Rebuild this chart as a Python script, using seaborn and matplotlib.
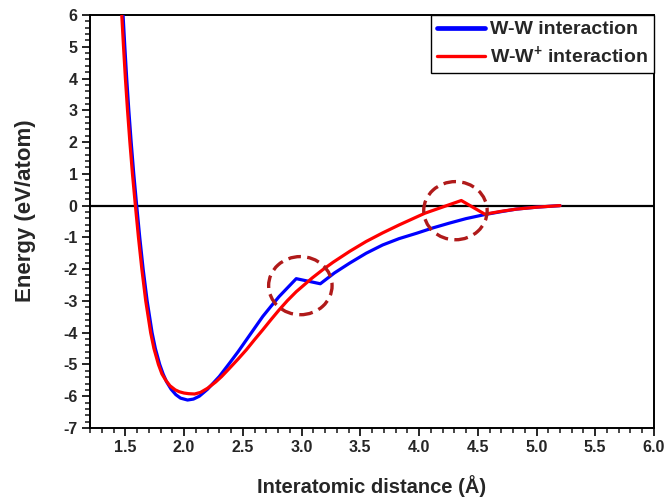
import matplotlib
matplotlib.use("Agg")
import matplotlib.pyplot as plt
from matplotlib.patches import Ellipse
from matplotlib.ticker import MultipleLocator, FormatStrFormatter
from matplotlib.lines import Line2D
import seaborn as sns
import pandas as pd

# W-W pair potential (eV/atom vs. interatomic distance in Å)
ww_r = [1.481, 1.496, 1.512, 1.530, 1.550, 1.572, 1.597, 1.623, 1.652, 1.686,
        1.728, 1.756, 1.793, 1.822, 1.852, 1.890, 1.930, 1.970, 2.030, 2.080,
        2.130, 2.200, 2.300, 2.387, 2.460, 2.530, 2.600, 2.670, 2.740, 2.810,
        2.955, 3.160, 3.280, 3.410, 3.550, 3.690, 3.830, 3.980, 4.120, 4.260,
        4.400, 4.550, 4.700, 4.830, 5.000, 5.200]
ww_e = [6.00, 5.00, 4.00, 3.00, 2.00, 1.00, 0.00, -1.00, -2.00, -3.00,
        -4.00, -4.50, -5.00, -5.30, -5.55, -5.78, -5.95, -6.06, -6.12, -6.09,
        -6.00, -5.78, -5.38, -4.96, -4.60, -4.23, -3.86, -3.49, -3.17, -2.86,
        -2.30, -2.46, -2.12, -1.81, -1.50, -1.24, -1.04, -0.87, -0.70, -0.55,
        -0.41, -0.29, -0.19, -0.11, -0.05, 0.00]

# W-W+ pair potential
wwp_r = [1.470, 1.485, 1.501, 1.519, 1.539, 1.561, 1.586, 1.612, 1.641, 1.674,
         1.716, 1.744, 1.782, 1.812, 1.845, 1.880, 1.925, 1.960, 2.000, 2.040,
         2.090, 2.140, 2.200, 2.270, 2.320, 2.387, 2.460, 2.530, 2.600, 2.670,
         2.740, 2.810, 2.880, 2.955, 3.090, 3.180, 3.270, 3.410, 3.550, 3.690,
         3.830, 4.050, 4.360, 4.560, 4.700, 4.830, 5.000, 5.200]
wwp_e = [6.00, 5.00, 4.00, 3.00, 2.00, 1.00, 0.00, -1.00, -2.00, -3.00,
         -4.00, -4.50, -5.00, -5.30, -5.50, -5.67, -5.80, -5.86, -5.90, -5.92,
         -5.93, -5.88, -5.75, -5.55, -5.38, -5.12, -4.83, -4.54, -4.22, -3.91,
         -3.59, -3.28, -2.99, -2.71, -2.28, -2.02, -1.78, -1.44, -1.13, -0.86,
         -0.61, -0.24, 0.16, -0.27, -0.18, -0.11, -0.05, 0.00]

series_names = ["W-W interaction", r"W-W$^{\mathbf{+}}$ interaction"]
series_colors = ["#0000FF", "#FF0000"]

# cutoff regions highlighted with dashed circles (centre r, centre E)
highlight_r = [2.99, 4.31]
highlight_e = [-2.52, -0.16]

df = pd.concat([
    pd.DataFrame({"r": ww_r, "E": ww_e, "series": series_names[0]}),
    pd.DataFrame({"r": wwp_r, "E": wwp_e, "series": series_names[1]}),
], ignore_index=True)

sns.set_style("ticks")
plt.rcParams["font.family"] = ["Liberation Sans", "DejaVu Sans"]
plt.rcParams["font.weight"] = "bold"
plt.rcParams["axes.unicode_minus"] = False
plt.rcParams["mathtext.fontset"] = "custom"
plt.rcParams["mathtext.rm"] = "Liberation Sans:bold"
plt.rcParams["mathtext.bf"] = "Liberation Sans:bold"

fig = plt.figure(figsize=(6.67, 4.99), dpi=100)
ax = fig.add_axes([0.135, 0.1423, 0.8455, 0.8277])

ax.axhline(0, color="black", lw=1.6, zorder=1)

sns.lineplot(data=df, x="r", y="E", hue="series", palette=series_colors,
             sort=False, estimator=None, lw=2.3, ax=ax, legend=False, zorder=3)

for cr, ce in zip(highlight_r, highlight_e):
    ax.add_patch(Ellipse((cr, ce), width=0.54, height=1.83, fill=False,
                         edgecolor="#B01A1A", lw=2.4, ls=(0, (3.8, 1.9)),
                         zorder=4))

ax.set_xlim(1.2, 6.0)
ax.set_ylim(-7, 6)
ax.xaxis.set_major_locator(MultipleLocator(0.5))
ax.xaxis.set_minor_locator(MultipleLocator(0.1))
ax.yaxis.set_major_locator(MultipleLocator(1))
ax.yaxis.set_minor_locator(MultipleLocator(0.2))
ax.xaxis.set_major_formatter(FormatStrFormatter("%.1f"))
ax.tick_params(which="major", direction="out", length=6, width=1.4,
               labelsize=11.5, pad=3, top=False, right=False)
ax.tick_params(which="minor", direction="out", length=3.5, width=1.2,
               top=False, right=False)
for s in ax.spines.values():
    s.set_linewidth(1.4)
    s.set_color("black")

ax.set_xlabel("Interatomic distance (Å)", fontsize=14.5, fontweight="bold",
              labelpad=14)
ax.set_ylabel("Energy (eV/atom)", fontsize=16, fontweight="bold")
ax.yaxis.set_label_coords(-0.095, 0.525)

handles = [Line2D([], [], color=series_colors[0], lw=3.4),
           Line2D([], [], color=series_colors[1], lw=2.4)]
leg = ax.legend(handles, series_names, loc="upper right", borderaxespad=0,
                fancybox=False, framealpha=1, edgecolor="black",
                prop={"size": 14, "weight": "bold"}, handlelength=2.5,
                handletextpad=0.25, borderpad=0.3, labelspacing=0.3)
leg.get_frame().set_linewidth(1.0)

fig.savefig("out.png", dpi=100)
